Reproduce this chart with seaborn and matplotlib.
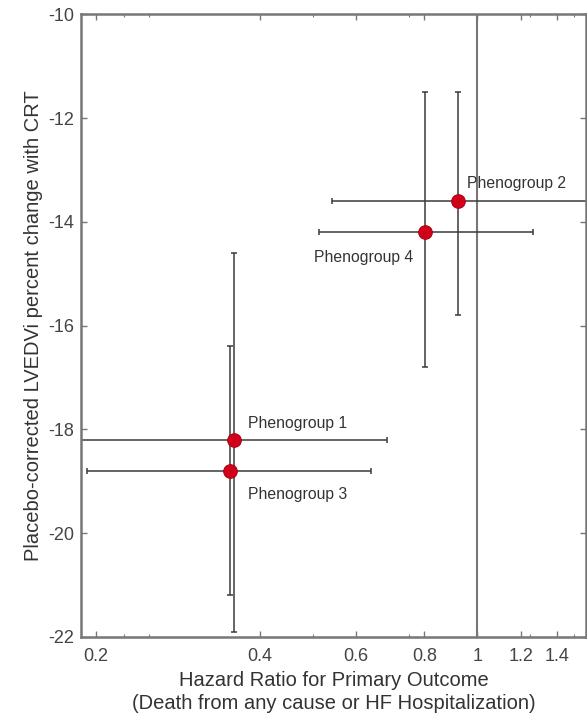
import matplotlib
matplotlib.use("Agg")
import matplotlib.pyplot as plt
import matplotlib.ticker as mticker
import seaborn as sns
import numpy as np
import pandas as pd

# values
groups = ["Phenogroup 1", "Phenogroup 2", "Phenogroup 3", "Phenogroup 4"]
hazard_ratio = [0.358, 0.923, 0.352, 0.803]
hr_lower = [0.18, 0.542, 0.193, 0.513]
hr_upper = [0.684, 1.65, 0.639, 1.262]
lvedvi_change = [-18.2, -13.6, -18.8, -14.2]
lv_lower = [-21.9, -15.8, -21.2, -16.8]
lv_upper = [-14.6, -11.5, -16.4, -11.5]

x_ticks = [0.2, 0.4, 0.6, 0.8, 1, 1.2, 1.4]
y_ticks = [-22, -20, -18, -16, -14, -12, -10]

# label offsets (points) and alignment
label_offsets = [(10, 12), (6, 13), (13, -17), (-9, -18)]
label_align = ["left", "left", "left", "right"]

df = pd.DataFrame({"group": groups, "hr": hazard_ratio, "lv": lvedvi_change})

sns.set_theme(style="ticks")
plt.rcParams["font.family"] = ["Liberation Sans", "DejaVu Sans"]
plt.rcParams["axes.unicode_minus"] = False

fig = plt.figure(figsize=(5.87, 7.14), dpi=100)
ax = fig.add_axes([0.138, 0.108, 0.860, 0.872])

ax.axvline(1, color="#777777", lw=1.5, zorder=1)

hr = np.array(hazard_ratio)
lv = np.array(lvedvi_change)
xerr = [hr - np.array(hr_lower), np.array(hr_upper) - hr]
yerr = [lv - np.array(lv_lower), np.array(lv_upper) - lv]
ax.errorbar(hr, lv, xerr=xerr, yerr=yerr, fmt="none", ecolor="#3a3a3a",
            elinewidth=1.1, capsize=2.5, capthick=1.1, zorder=2)

sns.scatterplot(data=df, x="hr", y="lv", ax=ax, color="#d0021b", s=95,
                edgecolor="#b00010", linewidth=0.8, zorder=3, legend=False)

for g, x, y, off, ha in zip(groups, hazard_ratio, lvedvi_change, label_offsets, label_align):
    ax.annotate(g, (x, y), xytext=off, textcoords="offset points",
                ha=ha, va="center", fontsize=11.3, color="#333333")

ax.set_xscale("log")
ax.set_xlim(0.188, 1.58)
ax.set_ylim(-22, -10)
ax.xaxis.set_major_locator(mticker.FixedLocator(x_ticks))
ax.xaxis.set_major_formatter(mticker.FixedFormatter([f"{t:g}" for t in x_ticks]))
ax.xaxis.set_minor_locator(mticker.LogLocator(base=10, subs=np.arange(1, 10) * 0.25, numticks=40))
ax.xaxis.set_minor_formatter(mticker.NullFormatter())
ax.set_yticks(y_ticks)

ax.tick_params(axis="both", which="both", direction="in", top=True, right=True,
               colors="#777777", labelcolor="#444444", labelsize=13)
ax.tick_params(axis="both", which="major", length=4, width=1)
ax.tick_params(axis="x", which="minor", length=2, width=0.8)
ax.tick_params(axis="x", which="major", pad=8)
ax.tick_params(axis="y", which="major", pad=5)

for sp in ax.spines.values():
    sp.set_color("#777777")
    sp.set_linewidth(1.8)
    sp.set_visible(True)

ax.set_xlabel("Hazard Ratio for Primary Outcome\n(Death from any cause or HF Hospitalization)",
              fontsize=14.5, color="#333333", labelpad=4, linespacing=1.3)
ax.set_ylabel("Placebo-corrected LVEDVi percent change with CRT",
              fontsize=14.5, color="#333333", labelpad=4)

fig.savefig("out.png", dpi=100)
